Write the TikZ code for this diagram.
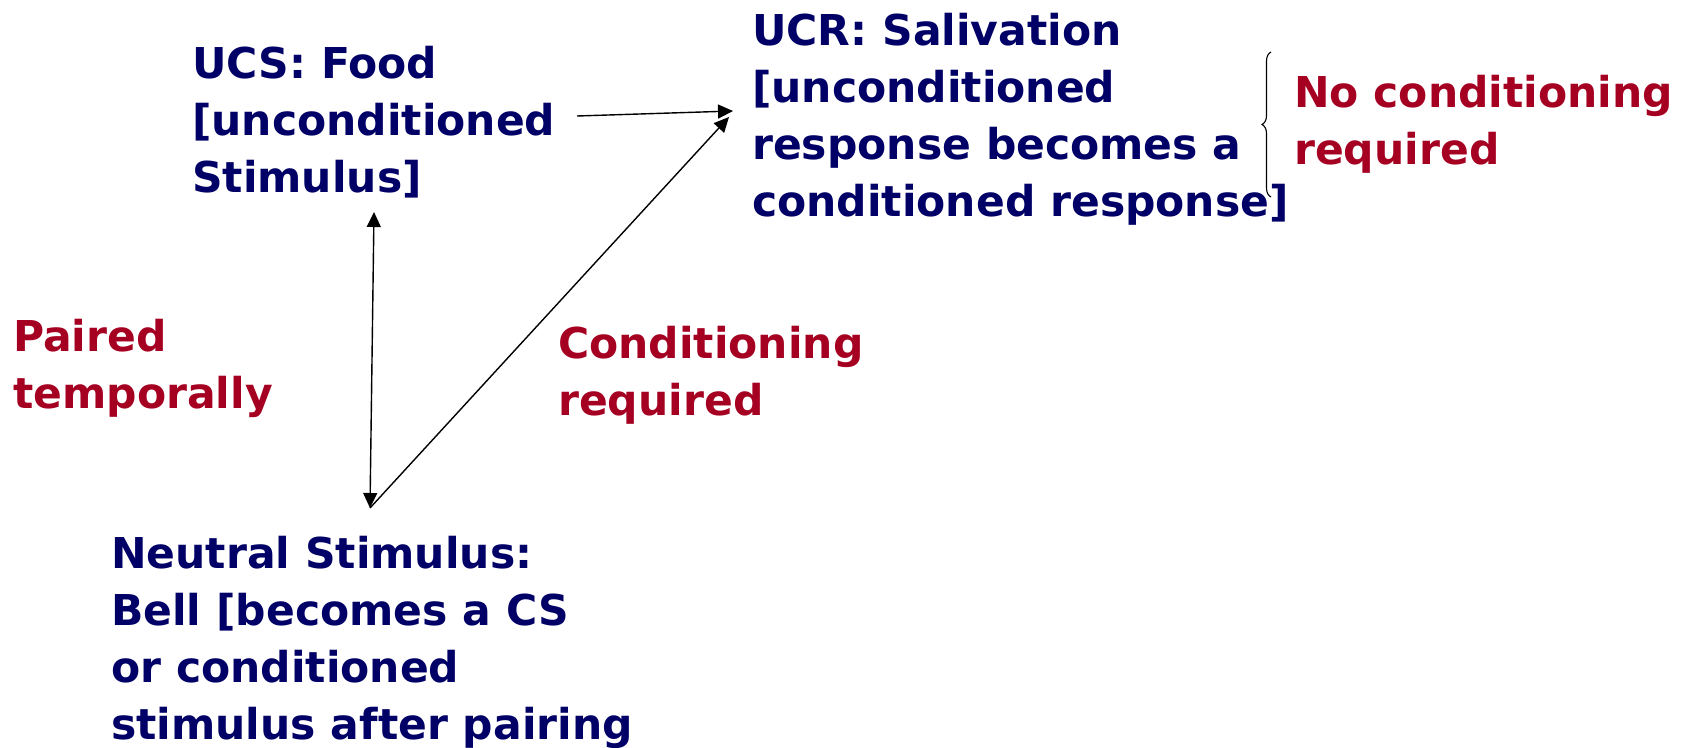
\documentclass[tikz,border=0pt]{standalone}
\usepackage{fontspec}
\setmainfont{DejaVu Sans}
\usetikzlibrary{arrows.meta,decorations.pathreplacing}
\definecolor{navy}{RGB}{0,0,102}
\definecolor{crimson}{RGB}{165,0,33}
\begin{document}
\begin{tikzpicture}[x=1pt,y=-1pt,
  % nodes are placed by the baseline of their last line
  txt/.style={anchor=base west,align=left,inner sep=0pt,
    font=\fontsize{42.5}{56.8}\selectfont\bfseries},
  term/.style={txt,text=navy},
  note/.style={txt,text=crimson},
  link/.style={line width=1.4pt,-{Triangle[length=15pt,width=14pt]}},
  bothlink/.style={line width=1.4pt,{Triangle[length=15pt,width=14pt]}-{Triangle[length=15pt,width=14pt]}}]
\useasboundingbox (0,0) rectangle (1691,747);

% stimulus and response terms
\node[term] (ucs) at (192,192) {UCS: Food\\{[}unconditioned\\Stimulus]};
\node[term] (ucr) at (752,216) {UCR: Salivation\\{[}unconditioned\\response becomes a\\conditioned response]};
\node[term] (ns) at (111,739) {Neutral Stimulus:\\Bell [becomes a CS\\or conditioned\\stimulus after pairing};

% annotations
\node[note] (paired) at (13,408) {Paired\\temporally};
\node[note] (cond) at (558,415) {Conditioning\\required};
\node[note] (nocond) at (1294,164) {No conditioning\\required};

% arrow end points
\coordinate (ucsR) at (577,116);
\coordinate (ucrL) at (733,111);
\coordinate (ucrLL) at (729,117);
\coordinate (ucsB) at (374,212);
\coordinate (nsT) at (370,508);
\coordinate (braceB) at (1271,197);
\coordinate (braceT) at (1271,52);

\draw[link] (ucsR) -- (ucrL);
\draw[link] (nsT) -- (ucrLL);
\draw[bothlink] (nsT) -- (ucsB);
\draw[line width=1.1pt,decorate,decoration={brace,amplitude=9pt}] (braceB) -- (braceT);
\end{tikzpicture}
\end{document}
